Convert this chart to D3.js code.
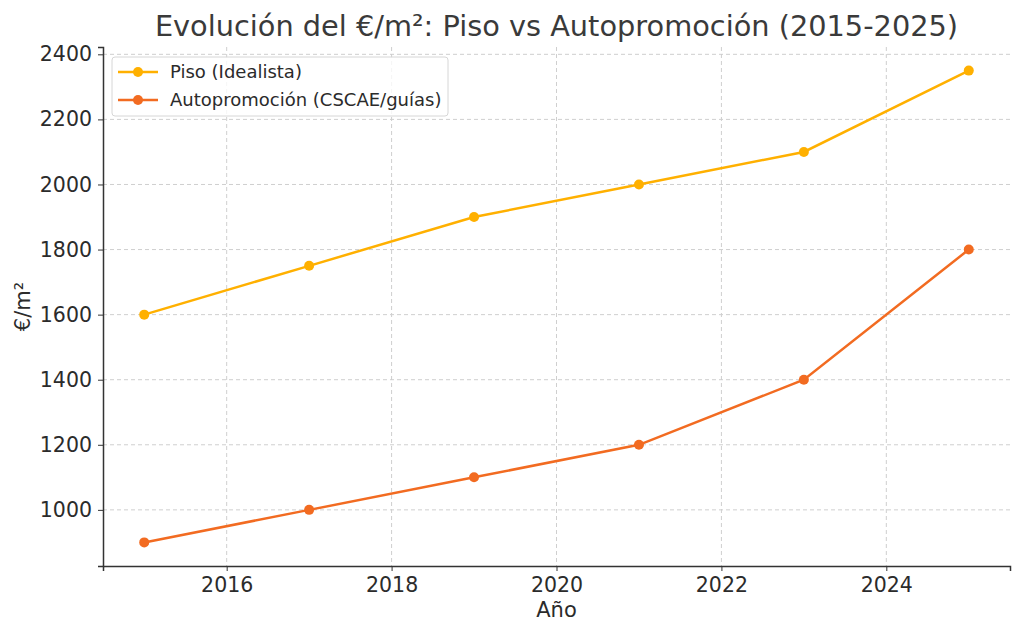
<!DOCTYPE HTML>
<html lang="es">
<head>
<meta charset="utf-8">
<title>Evolución del €/m²</title>
<style>
html, body {
    margin: 0;
    background: #fff;
 }
svg text {
    font-family: "DejaVu Sans", sans-serif;
    fill: #2b2b2b;
 }
.grid line {
    stroke: #cfcfcf;
    stroke-dasharray: 4,3;
 }
.axis path, .axis line {
    stroke: #333;
 }
</style>
</head>
<body>
<svg id="chart" width="1024" height="635"></svg>
<script src="https://cdn.jsdelivr.net/npm/d3@7/dist/d3.min.js"></script>
<script>
(function() {
'use strict';

// Data
const years = [2015, 2017, 2019, 2021, 2023, 2025];
const piso = [1600, 1750, 1900, 2000, 2100, 2350];
const autopromocion = [900, 1000, 1100, 1200, 1400, 1800];
const xTicks = [2016, 2018, 2020, 2022, 2024];
const yTicks = [1000, 1200, 1400, 1600, 1800, 2000, 2200, 2400];
const seriesNames = ['Piso (Idealista)', 'Autopromoción (CSCAE/guías)'];

const colors = ['#ffb000', '#f26b21'];

const margin = { top: 47, right: 14, bottom: 69, left: 103 };
const width = 1024, height = 635;

const svg = d3.select('#chart');

const x = d3.scaleLinear()
  .domain([2014.5, 2025.5])
  .range([margin.left, width - margin.right]);

const y = d3.scaleLinear()
  .domain([827.5, 2422.5])
  .range([height - margin.bottom, margin.top]);

// grid
svg.append('g')
  .attr('class', 'grid')
  .selectAll('line.v')
  .data(xTicks)
  .enter().append('line')
  .attr('x1', d => x(d)).attr('x2', d => x(d))
  .attr('y1', margin.top).attr('y2', height - margin.bottom);

svg.append('g')
  .attr('class', 'grid')
  .selectAll('line.h')
  .data(yTicks)
  .enter().append('line')
  .attr('y1', d => y(d)).attr('y2', d => y(d))
  .attr('x1', margin.left).attr('x2', width - margin.right);

// axes
const xAxis = svg.append('g')
  .attr('class', 'axis')
  .attr('transform', 'translate(0,' + (height - margin.bottom) + ')')
  .call(d3.axisBottom(x).tickValues(xTicks).tickFormat(d3.format('d')).tickSizeOuter(0).tickSize(5).tickPadding(6));
xAxis.selectAll('text').style('font-size', '20.5px');
xAxis.select('.domain').attr('stroke-width', 1.5);

const yAxis = svg.append('g')
  .attr('class', 'axis')
  .attr('transform', 'translate(' + margin.left + ',0)')
  .call(d3.axisLeft(y).tickValues(yTicks).tickFormat(d3.format('d')).tickSizeOuter(0).tickSize(5).tickPadding(6));
yAxis.selectAll('text').style('font-size', '20.5px');
yAxis.select('.domain').attr('stroke-width', 1.5);

// labels
svg.append('text')
  .attr('x', (margin.left + width - margin.right) / 2)
  .attr('y', 36)
  .attr('text-anchor', 'middle')
  .style('font-size', '28.8px')
  .style('fill', '#3a3a3a')
  .text('Evolución del €/m²: Piso vs Autopromoción (2015-2025)');

svg.append('text')
  .attr('x', (margin.left + width - margin.right) / 2)
  .attr('y', 617)
  .attr('text-anchor', 'middle')
  .style('font-size', '21px')
  .text('Año');

svg.append('text')
  .attr('transform', 'translate(30,' + ((margin.top + height - margin.bottom) / 2) + ') rotate(-90)')
  .attr('text-anchor', 'middle')
  .style('font-size', '21px')
  .text('€/m²');

// series
const series = [piso, autopromocion];
const line = d3.line()
  .x((d, i) => x(years[i]))
  .y(d => y(d));

series.forEach(function(values, s) {
  svg.append('path')
    .datum(values)
    .attr('fill', 'none')
    .attr('stroke', colors[s])
    .attr('stroke-width', 2.5)
    .attr('d', line);
  svg.append('g')
    .selectAll('circle')
    .data(values)
    .enter().append('circle')
    .attr('cx', (d, i) => x(years[i]))
    .attr('cy', d => y(d))
    .attr('r', 5)
    .attr('fill', colors[s]);
});

// legend
const legend = svg.append('g').attr('transform', 'translate(112,57)');
legend.append('rect')
  .attr('width', 336).attr('height', 59)
  .attr('rx', 3)
  .attr('fill', 'rgba(255,255,255,0.8)')
  .attr('stroke', '#d6d6d6');

seriesNames.forEach(function(name, i) {
  const ly = 15 + i * 28;
  legend.append('line')
    .attr('x1', 6).attr('x2', 46)
    .attr('y1', ly).attr('y2', ly)
    .attr('stroke', colors[i]).attr('stroke-width', 2.5);
  legend.append('circle')
    .attr('cx', 26).attr('cy', ly).attr('r', 5)
    .attr('fill', colors[i]);
  legend.append('text')
    .attr('x', 58).attr('y', ly)
    .attr('dy', '0.35em')
    .style('font-size', '18px')
    .text(name);
});
}());
</script>
</body>
</html>
